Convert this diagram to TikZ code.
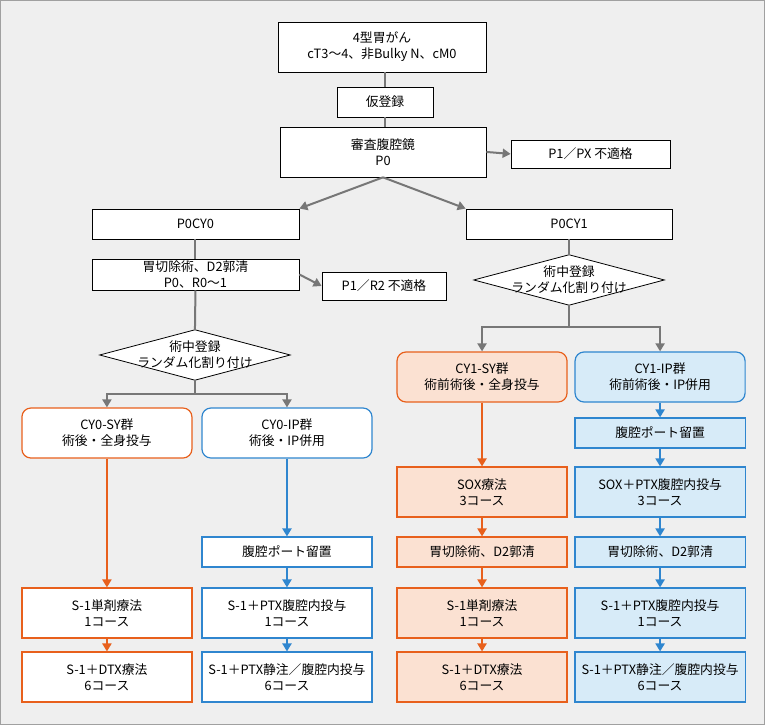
\documentclass[tikz,border=0pt]{standalone}
\usepackage{fontspec}
\setmainfont{Noto Sans CJK JP}
\usetikzlibrary{arrows.meta}
\definecolor{bg}{HTML}{EFEFEF}
\definecolor{ln}{HTML}{777777}
\definecolor{orn}{HTML}{E8601C}
\definecolor{ornl}{HTML}{FBE1D2}
\definecolor{blu}{HTML}{2F86CF}
\definecolor{blul}{HTML}{D7EBF8}
\tikzset{
  txt/.style={align=center, font=\fontsize{12.8}{16}\selectfont, inner sep=0pt},
  box/.style={txt, draw=black, fill=white, line width=0.8pt},
  sy/.style={box, draw=orn, line width=1.2pt},
  ip/.style={box, draw=blu, line width=1.2pt},
  arr/.style={-{Triangle[length=8pt,width=9pt]}, line width=2pt, ln},
  arro/.style={arr, orn},
  arrb/.style={arr, blu},
}
\begin{document}
\begin{tikzpicture}[x=1pt,y=-1pt]
  \fill[bg, draw=ln!70, line width=0.8pt] (0.5,0.5) rectangle (764.5,724.5);
  % top part
  \node[box, minimum width=208, minimum height=50] (gc) at (382,47) {4型胃がん\\cT3〜4、非Bulky N、cM0};
  \node[box, minimum width=96, minimum height=30] (kt) at (385,102) {仮登録};
  \node[box, minimum width=206, minimum height=50] (lp) at (383,152) {審査腹腔鏡\\P0};
  \node[box, minimum width=159, minimum height=28] (nx) at (590.5,154) {P1／PX 不適格};
  \node[box, minimum width=207, minimum height=30] (c0) at (195.5,224) {P0CY0};
  \node[box, minimum width=206, minimum height=30] (c1) at (569,224) {P0CY1};
  \node[box, minimum width=207, minimum height=31] (op) at (195.5,274.5) {胃切除術、D2郭清\\P0、R0〜1};
  \node[box, minimum width=124, minimum height=28] (nr) at (384,286) {P1／R2 不適格};
  % diamonds
  \node[txt, minimum width=190, minimum height=50] (dl) at (195,355) {};
  \node[txt, minimum width=190, minimum height=50] (dr) at (569,280) {};
  \foreach \d in {dl,dr}{
    \draw[fill=white, line width=0.8pt] (\d.west) -- (\d.north) -- (\d.east) -- (\d.south) -- cycle;
    \node[txt] at (\d) {術中登録\\ランダム化割り付け};
  }
  % group heads
  \node[sy, rounded corners=9pt, minimum width=170, minimum height=50] (l1) at (107,433) {CY0-SY群\\術後・全身投与};
  \node[ip, rounded corners=9pt, minimum width=170, minimum height=50] (m1) at (287,433) {CY0-IP群\\術後・IP併用};
  \node[sy, fill=ornl, rounded corners=9pt, minimum width=170, minimum height=50] (r1) at (482,377) {CY1-SY群\\術前術後・全身投与};
  \node[ip, fill=blul, rounded corners=9pt, minimum width=170, minimum height=50] (s1) at (660,377) {CY1-IP群\\術前術後・IP併用};
  % left columns
  \node[ip, minimum width=170, minimum height=30] (m2) at (287,552) {腹腔ポート留置};
  \node[sy, minimum width=170, minimum height=50] (l3) at (107,613) {S-1単剤療法\\1コース};
  \node[ip, minimum width=170, minimum height=50] (m3) at (287,613) {S-1＋PTX腹腔内投与\\1コース};
  \node[sy, minimum width=170, minimum height=50] (l4) at (107,677) {S-1＋DTX療法\\6コース};
  \node[ip, minimum width=170, minimum height=50] (m4) at (287,677) {S-1＋PTX静注／腹腔内投与\\6コース};
  % right columns
  \node[ip, fill=blul, minimum width=170, minimum height=30] (s2) at (660,433) {腹腔ポート留置};
  \node[sy, fill=ornl, minimum width=170, minimum height=50] (r3) at (482,492) {SOX療法\\3コース};
  \node[ip, fill=blul, minimum width=170, minimum height=50] (s3) at (660,492) {SOX＋PTX腹腔内投与\\3コース};
  \node[sy, fill=ornl, minimum width=170, minimum height=30] (r4) at (482,552) {胃切除術、D2郭清};
  \node[ip, fill=blul, minimum width=170, minimum height=30] (s4) at (660,552) {胃切除術、D2郭清};
  \node[sy, fill=ornl, minimum width=170, minimum height=50] (r5) at (482,613) {S-1単剤療法\\1コース};
  \node[ip, fill=blul, minimum width=170, minimum height=50] (s5) at (660,613) {S-1＋PTX腹腔内投与\\1コース};
  \node[sy, fill=ornl, minimum width=170, minimum height=50] (r6) at (482,677) {S-1＋DTX療法\\6コース};
  \node[ip, fill=blul, minimum width=170, minimum height=50] (s6) at (660,677) {S-1＋PTX静注／腹腔内投与\\6コース};
  % gray connectors
  \draw[ln, line width=2pt] (gc.south -| kt) -- (kt.north);
  \draw[ln, line width=2pt] (kt.south) -- (kt.south |- lp.north);
  \draw[arr] (lp.east) -- (nx.west);
  \draw[arr] (lp.south) -- (c0.north east);
  \draw[arr] (lp.south) -- (c1.north west);
  \draw[ln, line width=2pt] (c0.south) -- (op.north);
  \draw[arr] (op.east) -- (nr.west);
  \draw[ln, line width=2pt] (op.south) -- (dl.north);
  \draw[ln, line width=2pt] (c1.south) -- (dr.north);
  \draw[arr] (dl.south) -- ++(0,14) -| (l1.north);
  \draw[arr] (dl.south) -- ++(0,14) -| (m1.north);
  \draw[arr] (dr.south) -- ++(0,22) -| (r1.north);
  \draw[arr] (dr.south) -- ++(0,22) -| (s1.north);
  % coloured connectors
  \foreach \a/\b in {l1/l3, l3/l4, r1/r3, r3/r4, r4/r5, r5/r6}
    \draw[arro] (\a.south) -- (\b.north);
  \foreach \a/\b in {m1/m2, m2/m3, m3/m4, s1/s2, s2/s3, s3/s4, s4/s5, s5/s6}
    \draw[arrb] (\a.south) -- (\b.north);
\end{tikzpicture}
\end{document}
